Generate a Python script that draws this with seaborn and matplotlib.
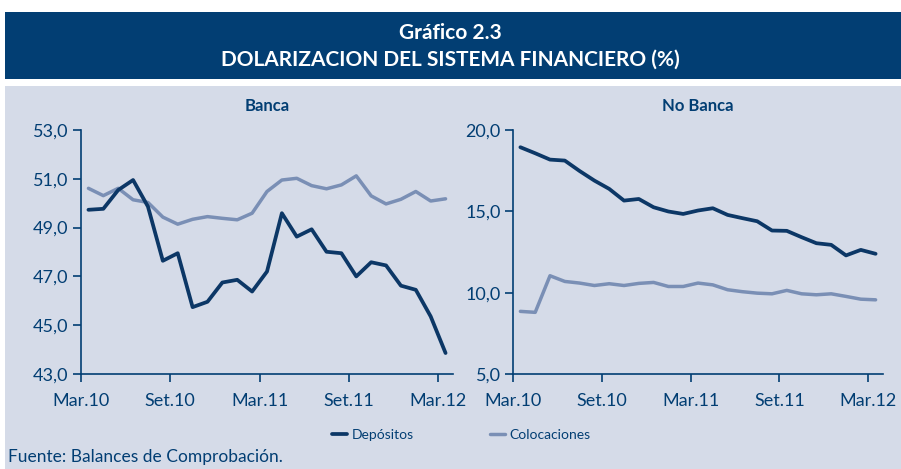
import numpy as np
import pandas as pd
import matplotlib
matplotlib.use('Agg')
import matplotlib.pyplot as plt
import seaborn as sns
from matplotlib.patches import Rectangle
from matplotlib.lines import Line2D

# monthly data, Mar.10 .. Mar.12
months = pd.date_range('2010-03-01', '2012-03-01', freq='MS')
tick_labels = ['Mar.10', 'Set.10', 'Mar.11', 'Set.11', 'Mar.12']

banca_depositos = [49.73, 49.77, 50.54, 50.95, 49.86, 47.64, 47.95, 45.74, 45.96, 46.75,
                   46.86, 46.38, 47.20, 49.59, 48.63, 48.93, 48.01, 47.95, 47.00, 47.58,
                   47.45, 46.62, 46.45, 45.36, 43.86]
banca_colocaciones = [50.61, 50.31, 50.61, 50.14, 50.03, 49.43, 49.14, 49.34, 49.45, 49.38,
                      49.32, 49.59, 50.48, 50.95, 51.02, 50.72, 50.59, 50.75, 51.12, 50.30,
                      49.97, 50.16, 50.48, 50.09, 50.18]
nobanca_depositos = [18.94, 18.57, 18.18, 18.12, 17.48, 16.89, 16.38, 15.66, 15.76, 15.25,
                     14.99, 14.84, 15.05, 15.19, 14.78, 14.58, 14.39, 13.82, 13.80, 13.41,
                     13.04, 12.94, 12.29, 12.63, 12.39]
nobanca_colocaciones = [8.85, 8.79, 11.04, 10.69, 10.59, 10.44, 10.55, 10.44, 10.57, 10.63,
                        10.38, 10.38, 10.59, 10.48, 10.18, 10.06, 9.97, 9.93, 10.14, 9.93,
                        9.87, 9.93, 9.77, 9.60, 9.56]

DARK = '#0c3766'
LIGHT = '#7a8fb5'
NAVY = '#023e73'
PANEL = '#d5dbe8'

sns.set_style('white')
plt.rcParams['font.family'] = ['Liberation Sans Narrow', 'Lato', 'DejaVu Sans']

fig = plt.figure(figsize=(9.01, 4.69), dpi=100)
fig.patch.set_facecolor('white')

# header band and panel background
fig.patches.append(Rectangle((5 / 901, 1 - 79 / 469), 896 / 901, 67 / 469,
                             transform=fig.transFigure, facecolor=NAVY, edgecolor='none', zorder=-5))
fig.patches.append(Rectangle((5 / 901, 0), 896 / 901, 1 - 86 / 469,
                             transform=fig.transFigure, facecolor=PANEL, edgecolor='none', zorder=-5))

fig.text(0.5, 1 - 33 / 469, 'Gráfico 2.3', color='white', fontsize=15, fontweight='bold',
         ha='center', va='center')
fig.text(0.5, 1 - 60 / 469, 'DOLARIZACION DEL SISTEMA FINANCIERO (%)', color='white', fontsize=15,
         fontweight='bold', ha='center', va='center')

pos = np.arange(len(months)) + 0.5


def draw_panel(ax, dep, col, title, ylim, yticks):
    df = pd.DataFrame({'pos': np.concatenate([pos, pos]),
                       'valor': dep + col,
                       'serie': ['Depósitos'] * len(dep) + ['Colocaciones'] * len(col)})
    sns.lineplot(data=df[df.serie == 'Colocaciones'], x='pos', y='valor', ax=ax, color=LIGHT,
                 linewidth=2.5, legend=False)
    sns.lineplot(data=df[df.serie == 'Depósitos'], x='pos', y='valor', ax=ax, color=DARK,
                 linewidth=2.7, legend=False)
    ax.set_facecolor('none')
    ax.set_xlim(0, 25)
    ax.set_ylim(*ylim)
    ax.set_xticks([0, 6, 12, 18, 24])
    ax.set_xticklabels(tick_labels)
    ax.set_yticks(yticks)
    ax.set_yticklabels([f'{v:.1f}'.replace('.', ',') for v in yticks])
    ax.set_xlabel('')
    ax.set_ylabel('')
    for s in ['top', 'right']:
        ax.spines[s].set_visible(False)
    for s in ['left', 'bottom']:
        ax.spines[s].set_color(NAVY)
        ax.spines[s].set_linewidth(1.2)
    ax.tick_params(axis='both', direction='out', length=6, width=1.2, color=NAVY,
                   labelcolor=NAVY, labelsize=13, left=True, bottom=True)
    ax.tick_params(axis='x', pad=8)
    ax.tick_params(axis='y', pad=3)
    ax.set_title(title, color=NAVY, fontsize=12, fontweight='bold', pad=14)


ax1 = fig.add_axes([81 / 901, 1 - 374 / 469, 372 / 901, 244 / 469], zorder=2)
ax2 = fig.add_axes([513 / 901, 1 - 374 / 469, 370 / 901, 244 / 469], zorder=2)

draw_panel(ax1, banca_depositos, banca_colocaciones, 'Banca', (43, 53), [43, 45, 47, 49, 51, 53])
draw_panel(ax2, nobanca_depositos, nobanca_colocaciones, 'No Banca', (5, 20), [5, 10, 15, 20])

handles = [Line2D([], [], color=DARK, linewidth=2.7), Line2D([], [], color=LIGHT, linewidth=2.5)]
fig.legend(handles, ['Depósitos', 'Colocaciones'], loc='center', bbox_to_anchor=(0.512, 1 - 435 / 469),
           ncol=2, frameon=False, fontsize=10, handlelength=1.1, handletextpad=0.3, columnspacing=5.5,
           labelcolor=NAVY)

fig.text(8 / 901, 1 - 457 / 469, 'Fuente: Balances de Comprobación.', color=NAVY, fontsize=12.5,
         ha='left', va='center')

fig.savefig('out.png', dpi=100, facecolor=fig.get_facecolor())
